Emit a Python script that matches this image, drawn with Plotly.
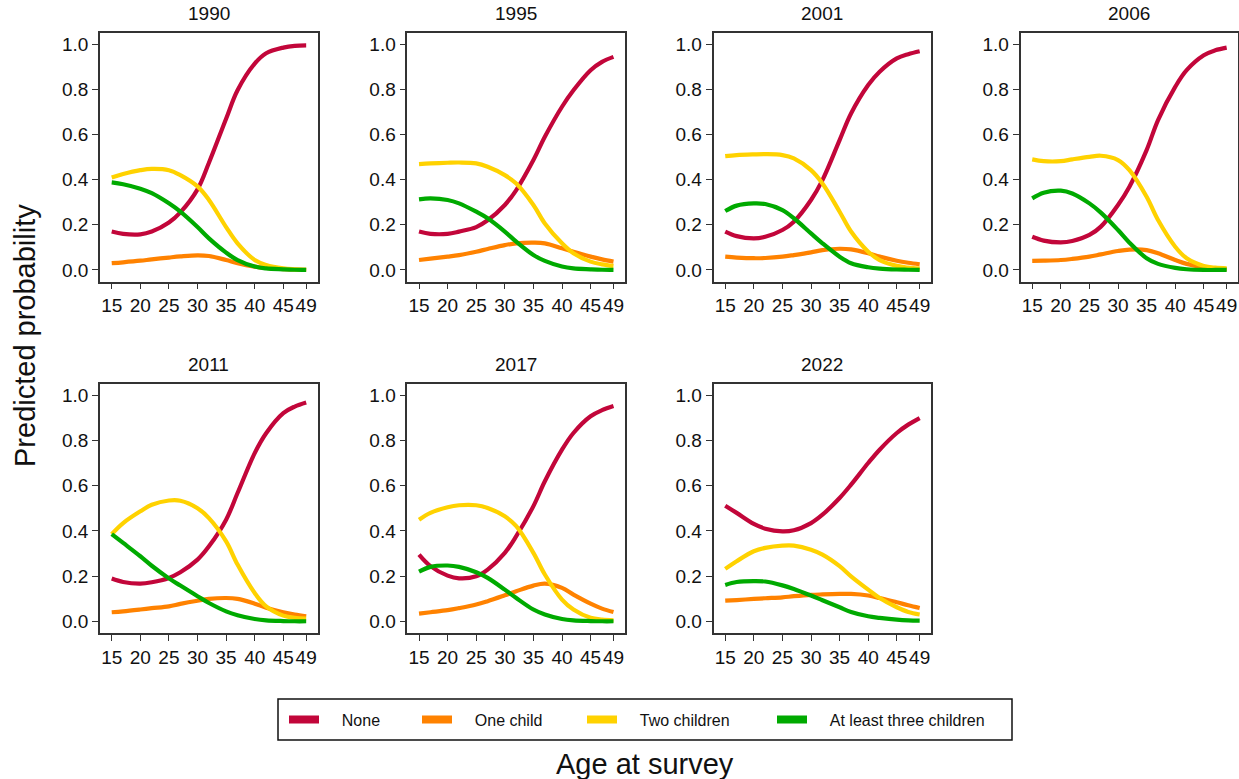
import plotly.graph_objects as go

# Ages at which the predicted probabilities are evaluated
ages = [15, 17, 20, 22, 25, 27, 30, 32, 35, 37, 40, 42, 45, 47, 49]
years = [1990, 1995, 2001, 2006, 2011, 2017, 2022]

# Predicted probability of each parity outcome by survey year
none_prob = {
    1990: [0.17, 0.16, 0.158, 0.17, 0.21, 0.255, 0.357, 0.475, 0.67, 0.796, 0.914, 0.96, 0.985, 0.993, 0.995],
    1995: [0.17, 0.16, 0.16, 0.17, 0.19, 0.22, 0.288, 0.354, 0.487, 0.59, 0.723, 0.796, 0.885, 0.922, 0.944],
    2001: [0.17, 0.15, 0.14, 0.147, 0.177, 0.214, 0.31, 0.398, 0.575, 0.693, 0.819, 0.878, 0.937, 0.956, 0.969],
    2006: [0.147, 0.13, 0.122, 0.128, 0.155, 0.192, 0.288, 0.369, 0.531, 0.664, 0.811, 0.885, 0.951, 0.973, 0.985],
    2011: [0.189, 0.174, 0.167, 0.173, 0.192, 0.217, 0.273, 0.332, 0.45, 0.568, 0.745, 0.833, 0.922, 0.951, 0.969],
    2017: [0.295, 0.244, 0.202, 0.19, 0.199, 0.229, 0.303, 0.377, 0.51, 0.62, 0.76, 0.834, 0.908, 0.935, 0.953],
    2022: [0.512, 0.48, 0.431, 0.41, 0.398, 0.403, 0.435, 0.472, 0.546, 0.605, 0.701, 0.76, 0.834, 0.871, 0.9],
}
one_child_prob = {
    1990: [0.03, 0.034, 0.041, 0.047, 0.055, 0.06, 0.065, 0.062, 0.044, 0.03, 0.015, 0.009, 0.004, 0.002, 0.001],
    1995: [0.044, 0.05, 0.059, 0.066, 0.081, 0.093, 0.11, 0.118, 0.121, 0.118, 0.096, 0.081, 0.059, 0.047, 0.037],
    2001: [0.059, 0.055, 0.052, 0.053, 0.059, 0.066, 0.078, 0.088, 0.094, 0.091, 0.074, 0.059, 0.041, 0.032, 0.025],
    2006: [0.04, 0.041, 0.044, 0.049, 0.059, 0.069, 0.084, 0.09, 0.088, 0.074, 0.044, 0.027, 0.012, 0.006, 0.004],
    2011: [0.04, 0.044, 0.052, 0.058, 0.066, 0.077, 0.091, 0.099, 0.103, 0.099, 0.078, 0.06, 0.04, 0.03, 0.022],
    2017: [0.034, 0.04, 0.049, 0.058, 0.074, 0.089, 0.115, 0.133, 0.158, 0.167, 0.148, 0.118, 0.078, 0.056, 0.041],
    2022: [0.091, 0.094, 0.099, 0.102, 0.106, 0.111, 0.117, 0.119, 0.121, 0.121, 0.114, 0.103, 0.084, 0.071, 0.059],
}
two_children_prob = {
    1990: [0.41, 0.425, 0.442, 0.448, 0.442, 0.42, 0.37, 0.31, 0.19, 0.118, 0.044, 0.022, 0.007, 0.003, 0.001],
    1995: [0.469, 0.472, 0.475, 0.476, 0.472, 0.457, 0.42, 0.383, 0.288, 0.206, 0.118, 0.074, 0.037, 0.025, 0.018],
    2001: [0.504, 0.509, 0.512, 0.513, 0.509, 0.494, 0.442, 0.383, 0.258, 0.17, 0.081, 0.044, 0.018, 0.01, 0.006],
    2006: [0.49, 0.482, 0.482, 0.49, 0.501, 0.506, 0.487, 0.442, 0.324, 0.221, 0.103, 0.052, 0.018, 0.01, 0.007],
    2011: [0.386, 0.435, 0.487, 0.516, 0.535, 0.534, 0.501, 0.457, 0.354, 0.251, 0.125, 0.066, 0.025, 0.015, 0.012],
    2017: [0.45, 0.48, 0.505, 0.514, 0.514, 0.502, 0.465, 0.421, 0.303, 0.207, 0.096, 0.052, 0.015, 0.007, 0.004],
    2022: [0.232, 0.266, 0.31, 0.325, 0.335, 0.335, 0.317, 0.295, 0.244, 0.199, 0.14, 0.103, 0.062, 0.041, 0.03],
}
three_plus_prob = {
    1990: [0.388, 0.38, 0.36, 0.34, 0.295, 0.258, 0.19, 0.14, 0.077, 0.044, 0.015, 0.007, 0.003, 0.001, 0.0],
    1995: [0.313, 0.317, 0.31, 0.295, 0.258, 0.229, 0.17, 0.125, 0.066, 0.04, 0.015, 0.007, 0.003, 0.001, 0.0],
    2001: [0.261, 0.285, 0.295, 0.292, 0.265, 0.229, 0.162, 0.118, 0.059, 0.03, 0.012, 0.006, 0.002, 0.001, 0.0],
    2006: [0.317, 0.342, 0.351, 0.339, 0.295, 0.254, 0.177, 0.121, 0.052, 0.027, 0.009, 0.003, 0.0, 0.0, 0.0],
    2011: [0.386, 0.347, 0.288, 0.246, 0.19, 0.158, 0.111, 0.081, 0.044, 0.027, 0.01, 0.004, 0.001, 0.0, 0.0],
    2017: [0.22, 0.241, 0.247, 0.241, 0.217, 0.192, 0.14, 0.103, 0.052, 0.03, 0.01, 0.004, 0.001, 0.0, 0.0],
    2022: [0.161, 0.174, 0.178, 0.176, 0.159, 0.143, 0.114, 0.093, 0.062, 0.041, 0.022, 0.015, 0.007, 0.004, 0.003],
}

series_names = ["None", "One child", "Two children", "At least three children"]
series_data = [none_prob, one_child_prob, two_children_prob, three_plus_prob]
series_colors = ["#C2063A", "#FF8200", "#FFD200", "#00AA00"]
legend_widths = [88, 120, 145, 180]

x_tickvals = [15, 20, 25, 30, 35, 40, 45, 49]
y_tickvals = [0.0, 0.2, 0.4, 0.6, 0.8, 1.0]
y_ticktext = ["0.0", "0.2", "0.4", "0.6", "0.8", "1.0"]

W, H = 1239, 779
col_left = [100, 407.3, 713.5, 1020.5]
panel_w = 217.5
row_top = [32.7, 384.0]
panel_h = 249.0

FONT = "Liberation Sans, Arial, sans-serif"
AXIS_COLOR = "#333333"
TICK_SIZE = 19

fig = go.Figure()
layout = dict(
    width=W, height=H,
    margin=dict(l=0, r=0, t=0, b=0),
    paper_bgcolor="white", plot_bgcolor="white",
    font=dict(family=FONT, color="#111111"),
    showlegend=True,
)
annotations = []

for i, yr in enumerate(years):
    r, c = divmod(i, 4)
    k = "" if i == 0 else str(i + 1)
    x0 = col_left[c]
    y_top = row_top[r]
    xdom = [x0 / W, (x0 + panel_w) / W]
    ydom = [1 - (y_top + panel_h) / H, 1 - y_top / H]
    layout["xaxis" + k] = dict(
        domain=xdom, range=[12.95, 50.98], anchor="y" + k,
        tickmode="array", tickvals=x_tickvals, ticktext=[str(v) for v in x_tickvals],
        tickangle=0,
        ticks="outside", ticklen=6, tickwidth=1.2, tickcolor=AXIS_COLOR,
        showline=True, linecolor=AXIS_COLOR, linewidth=1.5, mirror=True,
        showgrid=False, zeroline=False,
        tickfont=dict(size=TICK_SIZE, family=FONT, color="#111111"),
    )
    layout["yaxis" + k] = dict(
        domain=ydom, range=[-0.052, 1.051], anchor="x" + k,
        tickmode="array", tickvals=y_tickvals, ticktext=y_ticktext,
        ticks="outside", ticklen=6, tickwidth=1.2, tickcolor=AXIS_COLOR,
        showline=True, linecolor=AXIS_COLOR, linewidth=1.5, mirror=True,
        showgrid=False, zeroline=False,
        tickfont=dict(size=TICK_SIZE, family=FONT, color="#111111"),
    )
    annotations.append(dict(
        text=str(yr), xref="paper", yref="paper",
        x=(xdom[0] + xdom[1]) / 2, y=ydom[1], xanchor="center", yanchor="bottom",
        yshift=7, showarrow=False, font=dict(size=TICK_SIZE, family=FONT, color="#111111"),
    ))
    for name, data, color in zip(series_names, series_data, series_colors):
        fig.add_trace(go.Scatter(
            x=ages, y=data[yr], mode="lines", name=name,
            line=dict(color=color, width=4.2, shape="spline", smoothing=1.0),
            xaxis="x" + k, yaxis="y" + k, showlegend=False, legendgroup=name,
            hoverinfo="skip",
        ))

# Legend entries with thicker swatches; leading no-break spaces widen the gap to the label
for name, color, lw in zip(series_names, series_colors, legend_widths):
    fig.add_trace(go.Scatter(
        x=[None], y=[None], mode="lines", name="\u00a0\u00a0\u00a0\u00a0" + name,
        line=dict(color=color, width=8), legendgroup=name,
        legendwidth=lw, showlegend=True, hoverinfo="skip",
    ))

layout["legend"] = dict(
    orientation="h", x=284 / W, y=1 - 719.5 / H, xanchor="left", yanchor="middle",
    bgcolor="rgba(0,0,0,0)", borderwidth=0, itemwidth=30,
    font=dict(size=16, family=FONT, color="#111111"), itemclick=False,
)

# Frame around the legend
layout["shapes"] = [dict(
    type="rect", xref="paper", yref="paper",
    x0=278 / W, x1=1012 / W, y0=1 - 740 / H, y1=1 - 699 / H,
    line=dict(color="#111111", width=1.5), fillcolor="rgba(0,0,0,0)",
)]

annotations.append(dict(
    text="Predicted probability", xref="paper", yref="paper",
    x=25 / W, y=1 - 336 / H, xanchor="center", yanchor="middle", textangle=-90,
    showarrow=False, font=dict(size=29, family=FONT, color="#111111"),
))
annotations.append(dict(
    text="Age at survey", xref="paper", yref="paper",
    x=645 / W, y=1 - 764 / H, xanchor="center", yanchor="middle",
    showarrow=False, font=dict(size=29, family=FONT, color="#111111"),
))
layout["annotations"] = annotations

fig.update_layout(**layout)
fig.write_html("out.html")
